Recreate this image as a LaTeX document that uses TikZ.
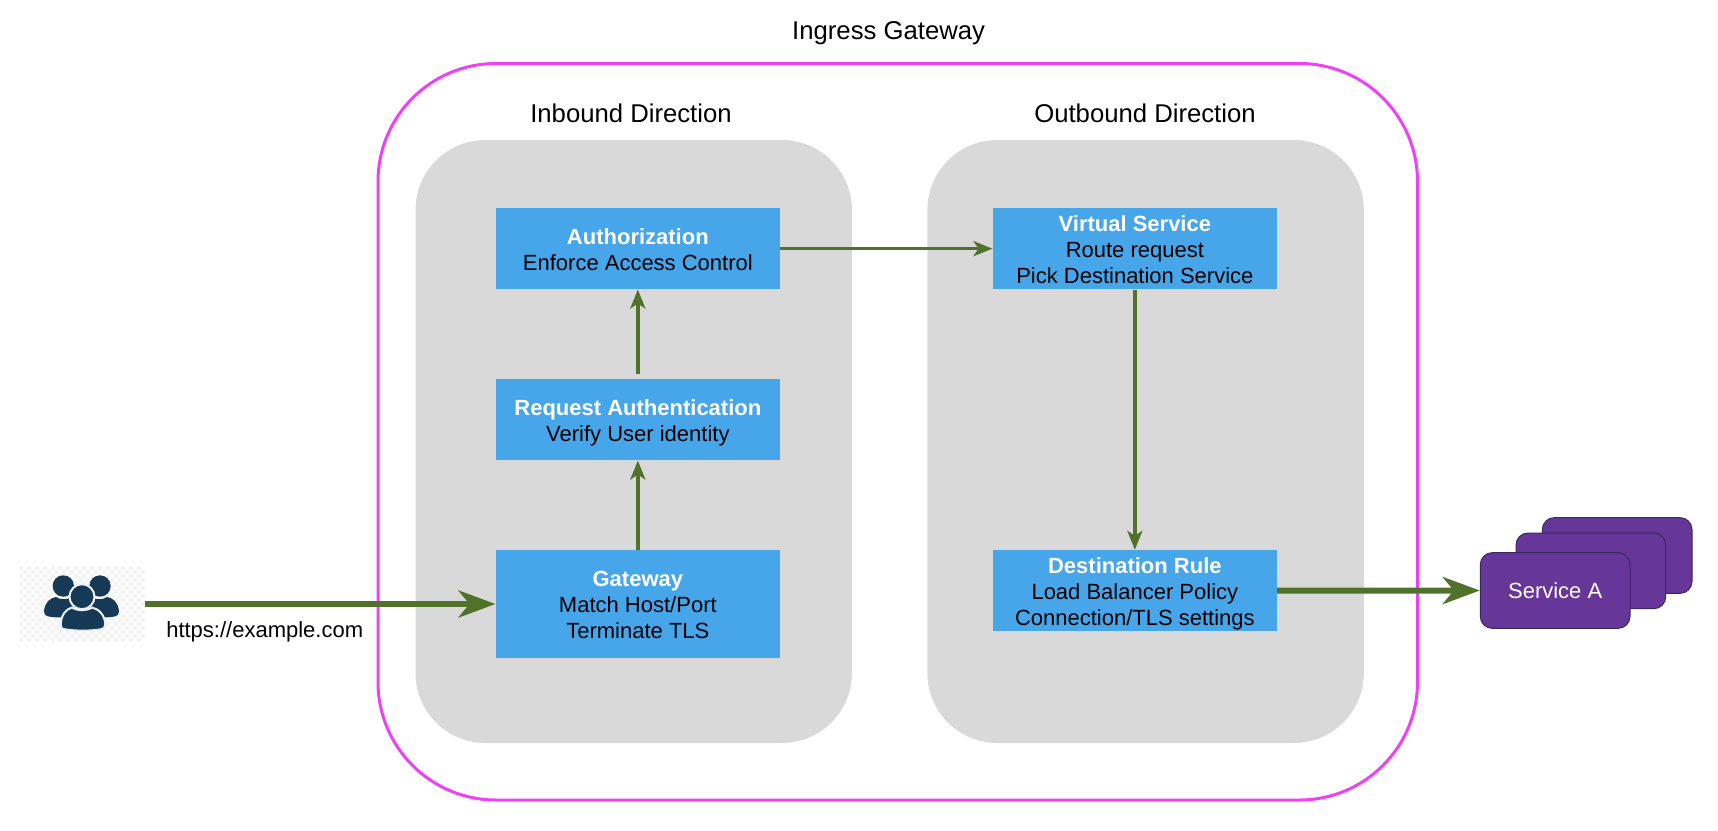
\documentclass[tikz,border=0pt]{standalone}
\usepackage{fontspec}
\setmainfont{Liberation Sans}
\usetikzlibrary{arrows.meta}
\definecolor{pinkline}{HTML}{EE40F5}
\definecolor{panelgray}{HTML}{D9D9D9}
\definecolor{boxblue}{HTML}{47A5E9}
\definecolor{arrowgreen}{HTML}{50722A}
\definecolor{purplefill}{HTML}{663699}
\definecolor{purpleline}{HTML}{3A2A5C}
\definecolor{navy}{HTML}{163A56}
\definecolor{checker}{HTML}{F3F3F3}
\tikzset{
  x=1pt,y=-1pt,
  outerbox/.style={draw=pinkline,line width=3pt,rounded corners=118pt,minimum width=1039.5pt,minimum height=736.5pt,inner sep=0pt},
  panel/.style={fill=panelgray,rounded corners=70pt,minimum width=436.4pt,minimum height=603pt,inner sep=0pt},
  stepbox/.style={fill=boxblue,minimum width=284.3pt,inner sep=0pt,align=center,font=\fontsize{22}{26}\selectfont},
  svcbox/.style={fill=purplefill,draw=purpleline,line width=1pt,rounded corners=12pt,minimum width=149.7pt,minimum height=75.7pt,inner sep=0pt,text=white,font=\fontsize{22}{26}\selectfont},
  heading/.style={anchor=base,inner sep=0pt,font=\fontsize{25.7}{30}\selectfont},
  thin arrow/.style={draw=arrowgreen,line width=3.5pt,-{Stealth[length=19pt,width=15pt,inset=5pt,fill=arrowgreen]}},
  thick arrow/.style={draw=arrowgreen,line width=6pt,-{Stealth[length=37pt,width=27pt,inset=11pt,fill=arrowgreen]}},
  personshape/.style={fill=navy,draw=none},
  ringshape/.style={fill=navy,draw=white!92!navy,line width=2pt},
}
\newcommand{\ttl}[1]{\rule{0pt}{22pt}{\bfseries\color{white}#1}}
\newcommand{\lastln}[1]{#1\rule[-5pt]{0pt}{5pt}}
\begin{document}
\begin{tikzpicture}
\useasboundingbox (0,0) rectangle (1718,830);
\node[outerbox] (outer) at (897.75,431.75) {};
\node[panel] (inpanel) at (633.7,441.5) {};
\node[panel] (outpanel) at (1145.6,441.5) {};
\node[heading] (ttlgw) at (888.6,39) {Ingress Gateway};
\node[heading] (ttlin) at (631,122.3) {Inbound Direction};
\node[heading] (ttlout) at (1145,122.3) {Outbound Direction};

\node[stepbox,minimum height=81.3pt] (auth) at (637.85,248.65) {\ttl{Authorization}\\\lastln{Enforce Access Control}};
\node[stepbox,minimum height=81.3pt] (vs) at (1134.85,248.65) {\ttl{Virtual Service}\\Route request\\\lastln{Pick Destination Service}};
\node[stepbox,minimum height=81.3pt] (ra) at (637.85,419.65) {\ttl{Request Authentication}\\\lastln{Verify User identity}};
\node[stepbox,minimum height=107.7pt] (gw) at (637.85,603.85) {\ttl{Gateway}\\Match Host/Port\\\lastln{Terminate TLS}};
\node[stepbox,minimum height=81.3pt] (dr) at (1134.85,590.65) {\ttl{Destination Rule}\\Load Balancer Policy\\\lastln{Connection/TLS settings}};

\node[svcbox] (svc3) at (1617.15,555.5) {};
\node[svcbox] (svc2) at (1590.85,570.85) {};
\node[svcbox] (svc1) at (1555.15,590.5) {Service A};

% user icon
\node[minimum width=126pt,minimum height=76pt,inner sep=0pt] (user) at (82,604) {};
\foreach \i in {0,...,31}{\foreach \j in {0,...,18}{%
  \pgfmathparse{int(mod(\i+\j,2))}%
  \ifnum\pgfmathresult=0 \fill[checker] (19+3.94*\i,566+4*\j) rectangle +(3.94,4);\fi}}
\fill[personshape] (63.3,586) circle (10.7);
\fill[personshape] (100,586) circle (10.7);
\fill[personshape] (44,611) .. controls (45,602) and (50,598) .. (56,597) .. controls (60,600) and (67,600) .. (72,597) .. controls (78,599) and (82,604) .. (82,616) .. controls (70,618) and (52,618) .. (47,616) .. controls (45,615) and (44,614) .. (44,611) -- cycle;
\fill[personshape] (119,611) .. controls (118,602) and (113,598) .. (107,597) .. controls (103,600) and (96,600) .. (91,597) .. controls (85,599) and (81,604) .. (81,616) .. controls (93,618) and (111,618) .. (116,616) .. controls (118,615) and (119,614) .. (119,611) -- cycle;
\draw[ringshape] (82,596.7) circle (12.5);
\filldraw[ringshape] (60.7,625) .. controls (61,615) and (66,609) .. (72,607.5) .. controls (77,611) and (87,611) .. (92,607.5) .. controls (99,609) and (105,615) .. (105.3,625) .. controls (105.3,628) and (103,629) .. (100,629.5) .. controls (90,631) and (75,631) .. (66,629.5) .. controls (62,629) and (60.7,628) .. (60.7,625) -- cycle;

\draw[thick arrow] (user.east) -- (gw.west |- user.east);
\draw[thick arrow] (dr.east) -- (svc1.west);
\draw[thin arrow] (gw.north) -- (ra.south);
\draw[thin arrow,shorten <=4.5pt] (ra.north) -- (auth.south);
\draw[thin arrow] (auth.east) -- (vs.west);
\draw[thin arrow] (vs.south) -- (dr.north);
\node[anchor=base,inner sep=0pt,font=\fontsize{22}{26}\selectfont] (url) at (264.7,637.7) {https://example.com};
\end{tikzpicture}
\end{document}
